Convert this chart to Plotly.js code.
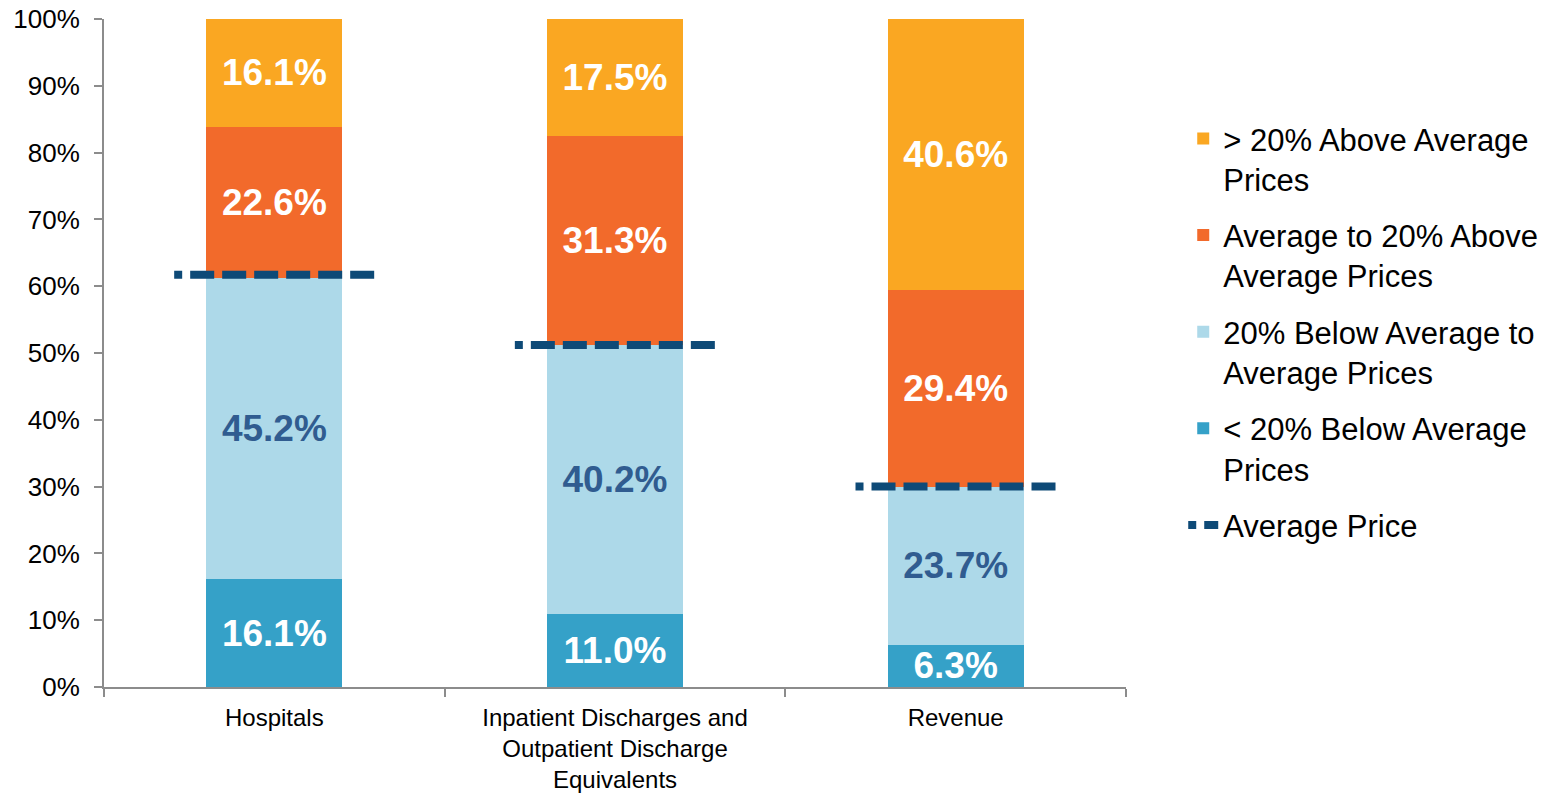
<!DOCTYPE html>
<html>
<head>
<meta charset="utf-8">
<script src="https://cdn.plot.ly/plotly-3.0.1.min.js"></script>
<style>html,body{margin:0;padding:0;background:#fff;}#chart{width:1564px;height:793px;}</style>
</head>
<body>
<div id="chart"></div>
<script>
var categories = ["Hospitals", "Inpatient Discharges and<br>Outpatient Discharge<br>Equivalents", "Revenue"];
var below20 = [16.1, 11.0, 6.3];
var belowToAvg = [45.2, 40.2, 23.7];
var avgToAbove20 = [22.6, 31.3, 29.4];
var above20 = [16.1, 17.5, 40.6];
var avgPrice = [61.7, 51.2, 30.0];
var yTicks = [0, 10, 20, 30, 40, 50, 60, 70, 80, 90, 100];
var seriesNames = ["&lt; 20% Below Average<br>Prices", "20% Below Average to<br>Average Prices", "Average to 20% Above<br>Average Prices", "&gt; 20% Above Average<br>Prices", "Average Price"];

var colors = ["#35A1C8", "#ADD9E9", "#F26A2B", "#FAA722"];
var textColors = ["#ffffff", "#305C90", "#ffffff", "#ffffff"];
var seriesVals = [below20, belowToAvg, avgToAbove20, above20];
var ranks = [4, 3, 2, 1];

var traces = seriesVals.map(function (vals, k) {
  return {
    type: "bar",
    name: seriesNames[k],
    x: categories,
    y: vals,
    width: 0.4,
    marker: { color: colors[k], line: { width: 0 } },
    text: vals.map(function (v) { return v.toFixed(1) + "%"; }),
    textposition: "inside",
    insidetextanchor: "middle",
    textangle: 0,
    constraintext: "none",
    textfont: { family: "Liberation Sans, Arial, sans-serif", size: 37, color: textColors[k], weight: "bold" },
    hoverinfo: "skip",
    legendrank: ranks[k],
    legendgroup: "g" + k
  };
});

var half = 0.294;
var lx = [], ly = [];
avgPrice.forEach(function (v, i) {
  lx.push(i - half, i + half, null);
  ly.push(v, v, null);
});
traces.push({
  type: "scatter",
  mode: "lines",
  name: seriesNames[4],
  x: lx,
  y: ly,
  xaxis: "x2",
  line: { color: "#0E4A77", width: 8, dash: "8px,8px,24px,8px,24px,8px,24px,8px,24px,8px,24px,8px,24px,8px" },
  hoverinfo: "skip",
  legendrank: 5,
  legendgroup: "g4"
});

var layout = {
  width: 1564,
  height: 793,
  margin: { l: 104, r: 438, t: 19, b: 106 },
  paper_bgcolor: "#ffffff",
  plot_bgcolor: "#ffffff",
  barmode: "stack",
  showlegend: true,
  uniformtext: { mode: "show", minsize: 37 },
  font: { family: "Liberation Sans, Arial, sans-serif", color: "#000000" },
  xaxis: {
    type: "category",
    range: [-0.5, 2.5],
    showline: true,
    linecolor: "#8C8C8C",
    linewidth: 2,
    ticks: "outside",
    tickson: "boundaries",
    ticklen: 8,
    tickwidth: 2,
    tickcolor: "#8C8C8C",
    tickfont: { size: 24, color: "#000000" },
    ticklabelstandoff: 8,
    showgrid: false,
    zeroline: false,
    fixedrange: true
  },
  xaxis2: {
    overlaying: "x",
    range: [-0.5, 2.5],
    visible: false,
    fixedrange: true
  },
  yaxis: {
    range: [0, 100],
    tickvals: yTicks,
    ticktext: yTicks.map(function (t) { return t + "%"; }),
    showline: true,
    linecolor: "#8C8C8C",
    linewidth: 2,
    ticks: "outside",
    ticklen: 8,
    tickwidth: 2,
    tickcolor: "#8C8C8C",
    tickfont: { size: 26, color: "#000000" },
    ticklabelstandoff: 9,
    showgrid: false,
    zeroline: false,
    fixedrange: true
  },
  legend: {
    x: 1.056,
    xanchor: "left",
    y: 0.861,
    yanchor: "top",
    valign: "top",
    traceorder: "grouped",
    tracegroupgap: 13,
    font: { size: 31, color: "#000000" },
    bgcolor: "rgba(0,0,0,0)"
  }
};

Plotly.newPlot("chart", traces, layout, { displayModeBar: false, staticPlot: true });
</script>
</body>
</html>
